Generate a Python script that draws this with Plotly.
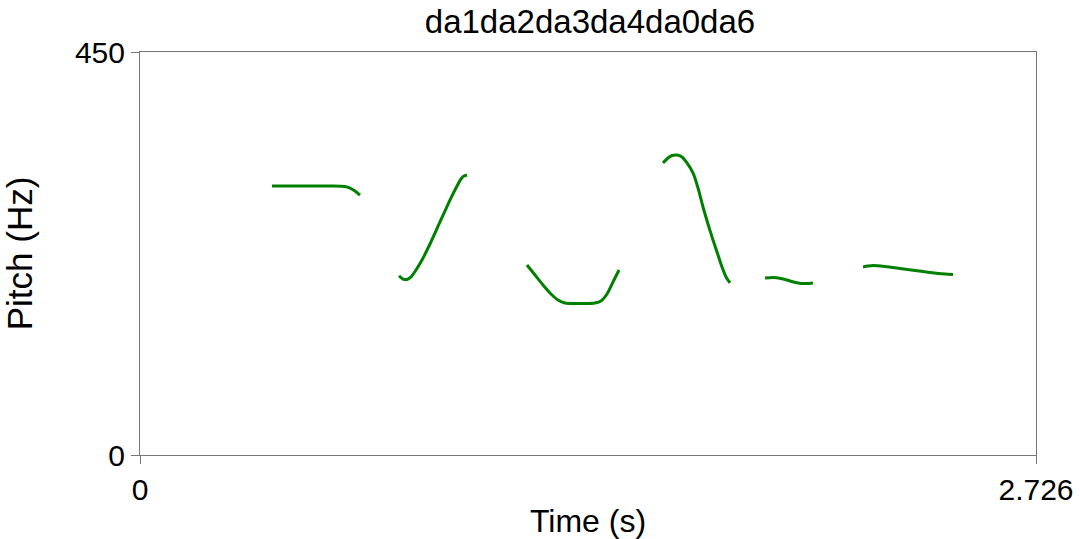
import plotly.graph_objects as go

# Pitch contour segments (time in s, pitch in Hz)
seg1_t = [0.4016, 0.4868, 0.5781, 0.6237, 0.6389, 0.6541, 0.6693]
seg1_f = [300.4, 300.4, 300.4, 299.8, 298.1, 294.8, 290.3]

seg2_t = [0.7880, 0.8001, 0.8123, 0.8245, 0.8397, 0.8580, 0.8823, 0.9127, 0.9431, 0.9614, 0.9766, 0.9857, 0.9949]
seg2_f = [199.9, 196.5, 196.0, 198.8, 206.6, 217.7, 235.6, 260.2, 284.7, 298.1, 308.2, 311.5, 312.7]

seg3_t = [1.1774, 1.2018, 1.2261, 1.2504, 1.2717, 1.2930, 1.3234, 1.3539, 1.3843, 1.4025, 1.4208, 1.4391, 1.4573]
seg3_f = [212.2, 201.0, 189.8, 179.8, 173.1, 169.7, 169.2, 169.2, 169.7, 172.0, 179.8, 193.2, 206.6]

seg4_t = [1.5912, 1.6064, 1.6186, 1.6338, 1.6490, 1.6642, 1.6824, 1.6977, 1.7129, 1.7281, 1.7433, 1.7585, 1.7707, 1.7829, 1.7950]
seg4_f = [326.1, 331.6, 334.4, 335.0, 332.8, 326.1, 314.9, 298.1, 276.9, 257.9, 240.1, 223.3, 209.9, 198.8, 192.1]

seg5_t = [1.9015, 1.9259, 1.9502, 1.9776, 2.0019, 2.0263, 2.0475]
seg5_f = [197.6, 198.2, 197.1, 194.3, 192.1, 191.5, 192.1]

seg6_t = [2.1997, 2.2149, 2.2301, 2.2666, 2.3122, 2.3579, 2.4035, 2.4491, 2.4735]
seg6_f = [209.9, 211.0, 211.6, 210.5, 208.3, 206.0, 203.8, 202.1, 201.6]

segments = [(seg1_t, seg1_f), (seg2_t, seg2_f), (seg3_t, seg3_f),
            (seg4_t, seg4_f), (seg5_t, seg5_f), (seg6_t, seg6_f)]

x_range = [0, 2.726]
y_range = [0, 450]
x_ticks = [0, 2.726]
x_ticklabels = ["0", "2.726"]
y_ticks = [0, 450]
y_ticklabels = ["0", "450"]

FONT = "Liberation Sans, Arial, Helvetica, sans-serif"
fig = go.Figure()
for t, f in segments:
    fig.add_trace(go.Scatter(x=t, y=f, mode="lines",
                             line=dict(color="#008000", width=3, shape="spline", smoothing=0.8),
                             showlegend=False, hoverinfo="skip"))

axis_common = dict(showgrid=False, zeroline=False, showline=True, mirror=True,
                   linecolor="#777777", linewidth=1, ticks="outside", ticklen=8,
                   tickcolor="#777777", tickwidth=1, automargin=False,
                   tickfont=dict(family=FONT, size=30, color="black"))

fig.update_layout(
    width=1080, height=539,
    margin=dict(l=140, r=44, t=52, b=84, autoexpand=False),
    paper_bgcolor="white", plot_bgcolor="white",
    title=dict(text="da1da2da3da4da0da6", x=590/1080, xanchor="center",
               y=1 - 21/539, yanchor="middle", yref="container",
               font=dict(family=FONT, size=33, color="black")),
    xaxis=dict(range=x_range, tickvals=x_ticks, ticktext=x_ticklabels,
               title=dict(text="Time (s)", font=dict(family=FONT, size=32, color="black"), standoff=8),
               **axis_common),
    yaxis=dict(range=y_range, tickvals=y_ticks, ticktext=y_ticklabels,
               title=dict(text="Pitch (Hz)", font=dict(family=FONT, size=35, color="black"), standoff=38),
               **axis_common),
)

fig.write_html("out.html", config={"displayModeBar": False},
               post_script="document.body.style.margin='0';document.body.style.overflow='hidden';")
